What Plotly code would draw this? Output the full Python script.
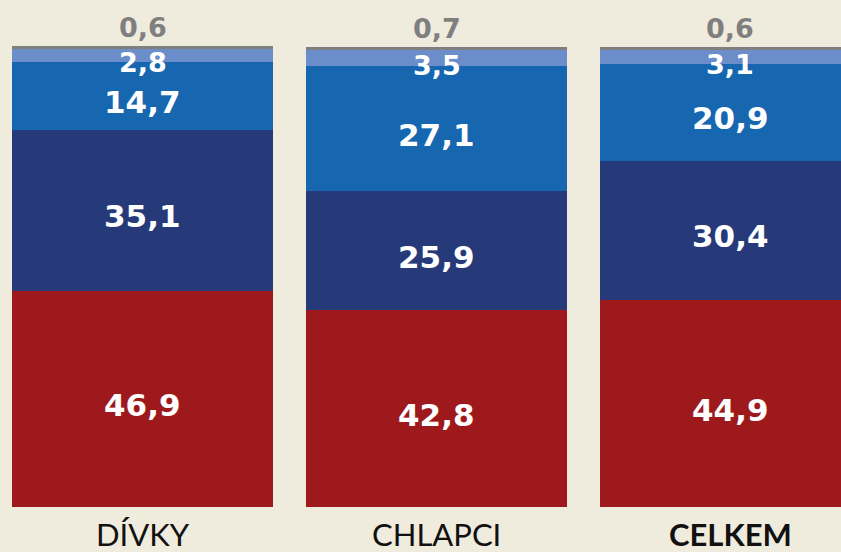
import plotly.graph_objects as go

categories = ["DÍVKY", "CHLAPCI", "CELKEM"]
red_vals = [46.9, 42.8, 44.9]
navy_vals = [35.1, 25.9, 30.4]
blue_vals = [14.7, 27.1, 20.9]
light_vals = [2.8, 3.5, 3.1]
gray_vals = [0.6, 0.7, 0.6]

series = [
    (red_vals, "#9e191c"),
    (navy_vals, "#263a7a"),
    (blue_vals, "#1667b0"),
    (light_vals, "#6b8dca"),
    (gray_vals, "#7f7f7f"),
]

BG = "#efebdd"
NUM_FONT = "DejaVu Sans"

fig = go.Figure()
xs = list(range(len(categories)))

for vals, color in series:
    fig.add_trace(go.Bar(
        x=xs, y=vals, width=0.89,
        marker=dict(color=color, line=dict(width=0)),
        showlegend=False, hoverinfo="skip",
    ))

# value labels
base = [0.0] * len(categories)
for si, (vals, color) in enumerate(series):
    for i, v in enumerate(vals):
        mid = base[i] + v / 2
        txt = f"{v:.1f}".replace(".", ",")
        if si == 4:
            # gray label sits above the bar
            fig.add_annotation(x=i, y=base[i] + v, text=f"<b>{txt}</b>", showarrow=False,
                               yanchor="bottom", yshift=1,
                               font=dict(family=NUM_FONT, size=27, color="#7f7f7f"))
        elif si == 3:
            fig.add_annotation(x=i, y=mid, text=f"<b>{txt}</b>", showarrow=False,
                               yshift=-7,
                               font=dict(family=NUM_FONT, size=27, color="white"))
        else:
            fig.add_annotation(x=i, y=mid, text=f"<b>{txt}</b>", showarrow=False,
                               yshift=-6,
                               font=dict(family=NUM_FONT, size=31, color="white"))
        base[i] += v

# category labels
for i, c in enumerate(categories):
    label = f"<b>{c}</b>" if c == "CELKEM" else c
    fig.add_annotation(x=i, y=0, text=label, showarrow=False, yanchor="middle",
                       yshift=-27, font=dict(family="Lato", size=31, color="#111111"))

fig.update_layout(
    barmode="stack",
    width=841, height=552,
    paper_bgcolor=BG, plot_bgcolor=BG,
    margin=dict(l=0, r=0, t=46, b=45),
    bargap=0,
    xaxis=dict(range=[-0.485, 2.376], visible=False, fixedrange=True),
    yaxis=dict(range=[0, 100.2], visible=False, fixedrange=True),
)

fig.write_html("out.html", config={"displayModeBar": False},
               post_script="document.body.style.margin='0';")
